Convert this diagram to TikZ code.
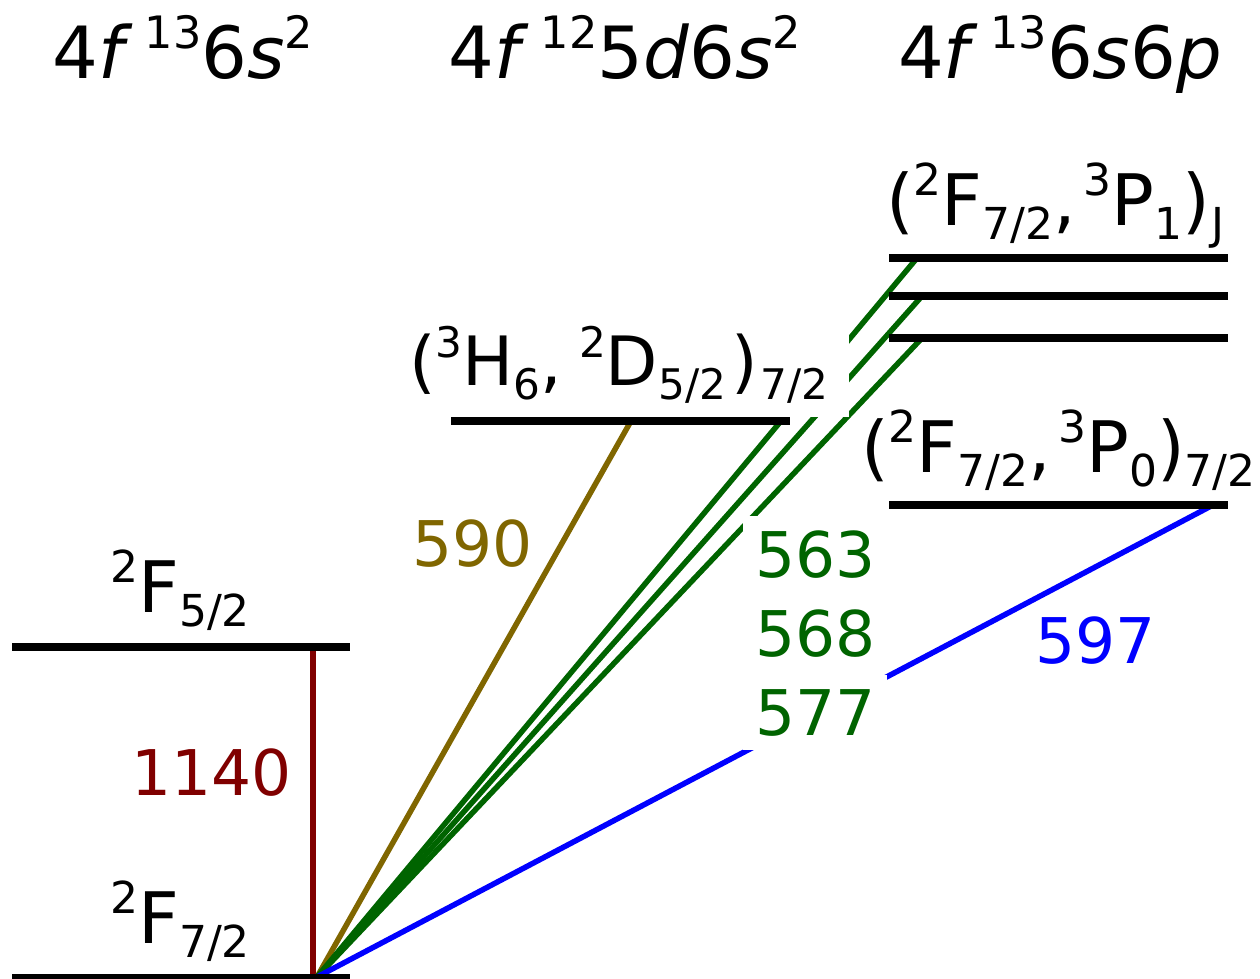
\documentclass[tikz,border=0pt]{standalone}
\usepackage{fontspec}
\usepackage{graphicx}
\setmainfont{DejaVu Sans}
\definecolor{cred}{RGB}{128,0,0}
\definecolor{colive}{RGB}{128,102,0}
\definecolor{cgreen}{RGB}{0,100,0}
\definecolor{cblue}{RGB}{0,0,255}
\newcommand\upix[1]{\raisebox{0.41em}{\scalebox{0.62}{#1}}}
\newcommand\dnix[1]{\raisebox{-0.21em}{\scalebox{0.62}{#1}}}
\begin{document}
\begin{tikzpicture}[x=1pt,y=-1pt,
  level/.style={line width=8pt},
  trans/.style={line width=5.5pt},
  title/.style={anchor=base, inner sep=0pt, font=\fontsize{72}{86}\selectfont},
  lab/.style={anchor=base west, inner sep=0pt, font=\fontsize{71}{80}\selectfont},
  num/.style={anchor=base west, inner sep=0pt, font=\fontsize{63}{70}\selectfont},
  mask/.style={fill=white}]
\useasboundingbox (0,0) rectangle (1260,978);

% level end points
\coordinate (g0) at (12,978);   \coordinate (g1) at (350,978);
\coordinate (f0) at (12,647);   \coordinate (f1) at (350,647);
\coordinate (h0) at (451,421);  \coordinate (h1) at (790,421);
\coordinate (a0) at (889,258);  \coordinate (a1) at (1228,258);
\coordinate (b0) at (889,296);  \coordinate (b1) at (1228,296);
\coordinate (c0) at (889,338);  \coordinate (c1) at (1228,338);
\coordinate (d0) at (889,505);  \coordinate (d1) at (1228,505);

% transition end points
\coordinate (g) at (317,977);
\coordinate (gr) at (313,977);
\coordinate (fr) at (313,647);
\coordinate (ho) at (631,421);
\coordinate (ap) at (917,258);
\coordinate (bp) at (922,296);
\coordinate (cp) at (922,338);
\coordinate (dp) at (1213,505);

% transitions
\draw[trans, cred] (gr) -- (fr);
\draw[trans, colive] (g) -- (ho);
\draw[trans, cgreen] (g) -- (ap);
\draw[trans, cgreen] (g) -- (bp);
\draw[trans, cgreen] (g) -- (cp);
\draw[trans, cblue] (g) -- (dp);

% titles
\node[title] (t1) at (183,78) {4\textit{f}\,\upix{13}6\textit{s}\upix{2}};
\node[title] (t2) at (625,78) {4\textit{f}\,\upix{12}5\textit{d}6\textit{s}\upix{2}};
\node[title] (t3) at (1060,78) {4\textit{f}\,\upix{13}6\textit{s}6\textit{p}};

% level labels
\node[lab] (lg) at (110,943) {\upix{2}F\dnix{7/2}};
\node[lab] (lf) at (110,612) {\upix{2}F\dnix{5/2}};
\node[lab, font=\fontsize{68}{76}\selectfont, mask, inner xsep=20pt, inner ysep=14pt] (lh) at (389,385)
  {(\upix{3}H\dnix{6},\hspace{0.25em}\upix{2}D\dnix{5/2}\hspace{0.08em})\hspace{0.04em}\dnix{7/2}};
\node[lab] (la) at (886,225) {(\upix{2}F\dnix{7/2},\hspace{0.1em}\upix{3}P\dnix{1})\hspace{0.03em}\dnix{J}};
\node[lab] (ld) at (861,472) {(\upix{2}F\dnix{7/2},\hspace{0.1em}\upix{3}P\dnix{0})\dnix{7/2}};

% wavelength labels
\node[num, colive] (n590) at (412,566) {590};
\node[num, cred] (n1140) at (131,795) {1140};
\node[num, cgreen, mask, inner xsep=12pt, inner ysep=14pt] (n563) at (743,577) {563};
\node[num, cgreen, mask, inner xsep=12pt, inner ysep=14pt] (n568) at (743,656) {568};
\node[num, cgreen, mask, inner xsep=12pt, inner ysep=14pt] (n577) at (743,735) {577};
\node[num, cblue] (n597) at (1035,663) {597};

% levels
\draw[level] (g0) -- (g1);
\draw[level] (f0) -- (f1);
\draw[level] (h0) -- (h1);
\draw[level] (a0) -- (a1);
\draw[level] (b0) -- (b1);
\draw[level] (c0) -- (c1);
\draw[level] (d0) -- (d1);
\end{tikzpicture}
\end{document}
